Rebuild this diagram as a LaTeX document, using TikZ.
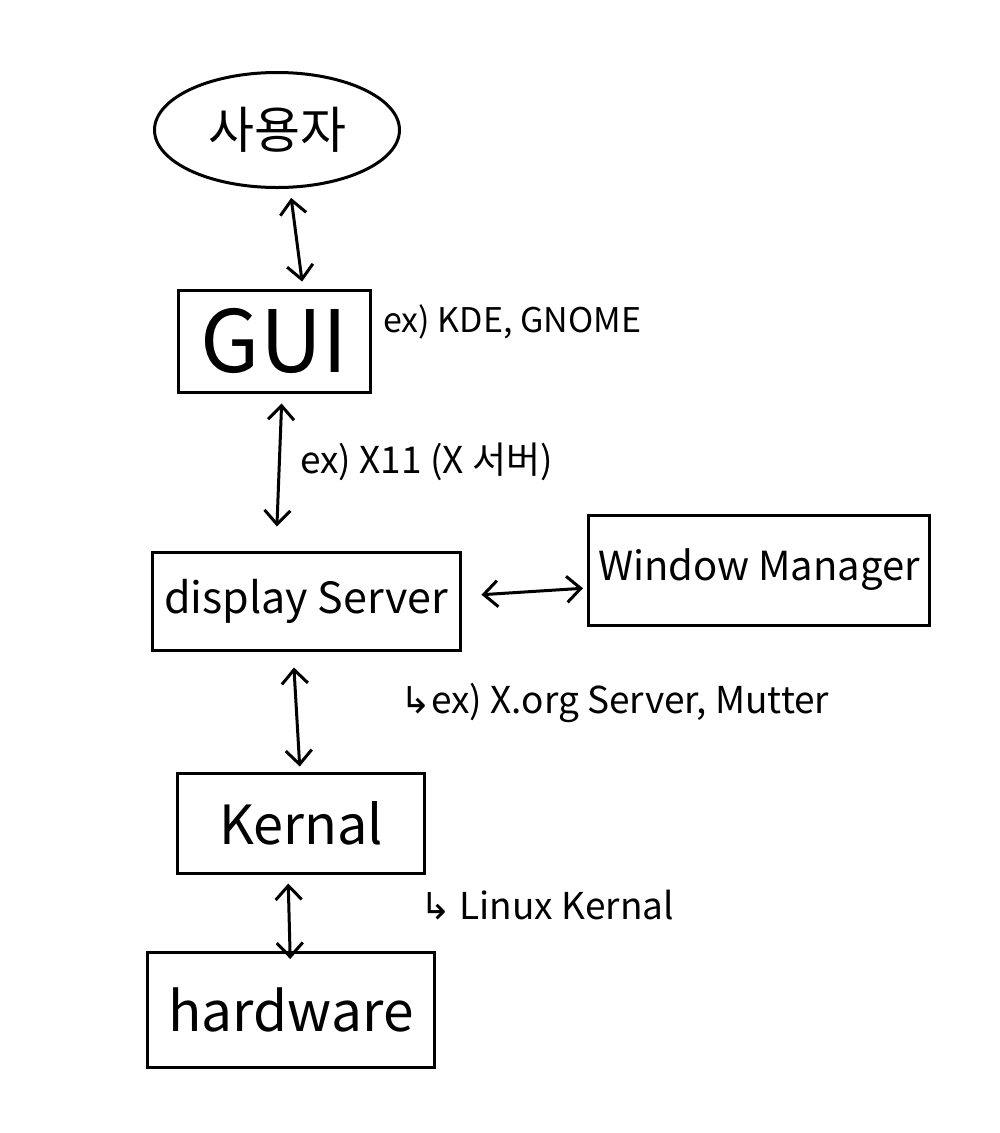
\documentclass[tikz,border=0pt]{standalone}
\usepackage{fontspec}
\setmainfont{Noto Sans CJK KR}
\newfontfamily\arrowfont{DejaVu Sans}
\usetikzlibrary{shapes.geometric,arrows.meta}
\tikzset{
  box/.style={draw, line width=3pt, rectangle, inner sep=0pt, align=center},
  conn/.style={line width=3pt, {Straight Barb[length=14pt,width=26pt]}-{Straight Barb[length=14pt,width=26pt]}},
  note/.style={anchor=west, inner sep=0pt}
}
\begin{document}
\begin{tikzpicture}[x=1pt,y=-1pt]
\useasboundingbox[fill=white] (0,0) rectangle (1000,1133);
\node[draw, ellipse, line width=3pt, minimum width=245pt, minimum height=115pt, inner sep=0pt] (user) at (277,130) {\fontsize{50}{56}\selectfont 사용자};
\node[box, minimum width=192pt, minimum height=102pt] (gui) at (274,341) {\fontsize{86}{90}\selectfont GUI};
\node[box, minimum width=308pt, minimum height=98pt] (disp) at (306,601) {\fontsize{43}{48}\selectfont display Server};
\node[box, minimum width=341pt, minimum height=110pt] (wm) at (759,570) {\fontsize{40}{44}\selectfont Window Manager};
\node[box, minimum width=247pt, minimum height=100pt] (kern) at (301,823) {\fontsize{54}{58}\selectfont Kernal};
\node[box, minimum width=287pt, minimum height=115pt] (hw) at (291,1010) {\fontsize{55}{60}\selectfont hardware};

\node[note] (kde) at (383,322) {\fontsize{34}{38}\selectfont ex) KDE, GNOME};
\node[note] (x11) at (300,462) {\fontsize{37}{40}\selectfont ex) X11 (X 서버)};
\node[note] (xorg) at (400,703) {\fontsize{37}{40}\selectfont {\arrowfont ↳}ex) X.org Server, Mutter};
\node[note] (linux) at (420,905) {\fontsize{37}{40}\selectfont {\arrowfont ↳} Linux Kernal};

\draw[conn, shorten <=9pt, shorten >=7pt] ([xshift=13pt]user.south) -- ([xshift=29pt]gui.north);
\draw[conn, shorten <=10pt, shorten >=24pt] ([xshift=8pt]gui.south) -- ([xshift=-30pt]disp.north);
\draw[conn, shorten <=16pt, shorten >=5pt] ([xshift=-13pt]disp.south) -- ([xshift=-1pt]kern.north);
\draw[conn, shorten <=9pt, shorten >=-8pt] ([xshift=-13pt]kern.south) -- ([xshift=-1pt]hw.north);
\draw[conn, shorten <=20pt, shorten >=4pt] ([yshift=5pt]disp.east) -- ([yshift=-18pt]wm.west);
\end{tikzpicture}
\end{document}
